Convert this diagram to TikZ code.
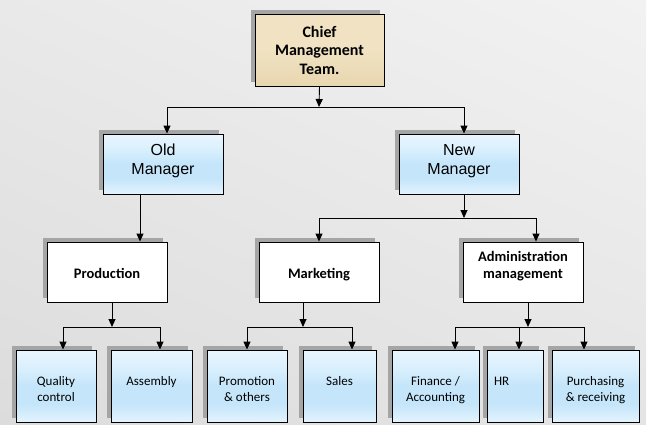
\documentclass[tikz,border=0pt]{standalone}
\usepackage{fontspec}
\setmainfont{Carlito}
\newfontfamily\arialf{Liberation Sans}
\usetikzlibrary{arrows.meta,shadows,shadings,calc}
\definecolor{bgA}{RGB}{220,220,220}
\definecolor{bgB}{RGB}{242,242,242}
\definecolor{parch}{RGB}{240,226,194}
\definecolor{parchB}{RGB}{232,214,176}
\definecolor{bluetop}{RGB}{234,246,254}
\definecolor{bluemidA}{RGB}{214,238,253}
\definecolor{bluemid}{RGB}{196,229,250}
\definecolor{bluebot}{RGB}{228,243,254}
\definecolor{shadowgray}{RGB}{165,165,165}
\pgfdeclareverticalshading{boxblue}{100bp}{color(0bp)=(bluebot); color(25bp)=(bluebot); color(38bp)=(bluemid); color(50bp)=(bluemid); color(60bp)=(bluemidA); color(75bp)=(bluetop); color(100bp)=(bluetop)}
\tikzset{
  boxshadow/.style={general shadow={fill=shadowgray, shadow xshift=-4pt, shadow yshift=4pt}},
  basebox/.style={draw=black, line width=0.9pt, rectangle, inner sep=0pt, align=center, boxshadow},
  chiefbox/.style={basebox, top color=parch, bottom color=parchB, middle color=parch,
    font=\fontsize{16}{18.5}\selectfont\bfseries},
  mgrbox/.style={basebox, shading=boxblue, text depth=10pt,
    font=\arialf\fontsize{16}{19}\selectfont},
  midbox/.style={basebox, fill=white, font=\fontsize{14.5}{17}\selectfont\bfseries},
  midone/.style={text height=14pt, text depth=0.6pt},
  leafbox/.style={basebox, shading=boxblue,
    font=\fontsize{13}{16}\selectfont},
  twoline/.style={text height=34.8pt, text depth=4pt},
  oneline/.style={text depth=10pt},
  arr/.style={line width=0.9pt, -{Triangle[length=8pt,width=7pt]}}
}
\begin{document}
\begin{tikzpicture}[x=1pt,y=-1pt]
\useasboundingbox (0,0) rectangle (653,431);
\shade[lower left=bgA, upper right=bgB, lower right=bgA!60!bgB, upper left=bgA!40!bgB] (0,0) rectangle (646,424);
% top
\node[chiefbox, minimum width=129pt, minimum height=72pt] (chief) at (319.5,50) {Chief\\Management\\Team.};
% managers
\node[mgrbox, minimum width=120pt, minimum height=60pt] (om) at (163,164) {Old\\Manager};
\node[mgrbox, minimum width=120pt, minimum height=60pt] (nm) at (459,164) {New\\Manager};
% middle
\node[midbox, midone, minimum width=120pt, minimum height=60pt] (prod) at (107,272) {Production};
\node[midbox, midone, minimum width=120pt, minimum height=60pt] (mkt) at (319,272) {Marketing};
\node[midbox, text depth=14pt, minimum width=120pt, minimum height=60pt] (adm) at (523,272) {Administration\\management};
% leaves
\node[leafbox, twoline, minimum width=80pt, minimum height=72pt] (qc) at (56,386) {Quality\\control};
\node[leafbox, oneline, minimum width=81pt, minimum height=72pt] (asm) at (151.5,386) {Assembly};
\node[leafbox, twoline, minimum width=80pt, minimum height=72pt] (promo) at (247,386) {Promotion\\\& others};
\node[leafbox, oneline, minimum width=73pt, minimum height=72pt] (sales) at (339.5,386) {Sales};
\node[leafbox, twoline, minimum width=87pt, minimum height=72pt] (fin) at (435.5,386) {Finance /\\Accounting};
\node[leafbox, oneline, minimum width=56pt, minimum height=72pt, text width=42pt, align=left] (hr) at (515,386) {HR};
\node[leafbox, twoline, minimum width=87pt, minimum height=72pt] (pur) at (595.5,386) {Purchasing\\\& receiving};
% junctions
\coordinate (j1) at (319,107);
\coordinate (j2) at (464,218);
\coordinate (j3) at (112,327);
\coordinate (j4) at (303,327);
\coordinate (j5) at (528,327);
% connectors
\draw[arr] (chief.south) -- (j1);
\draw[arr] (j1) -| ([xshift=4pt]om.north);
\draw[arr] (j1) -| ([xshift=5pt]nm.north);
\draw[arr] ([xshift=-23pt]om.south) -- ([xshift=-23pt]om.south |- prod.north);
\draw[arr] ([xshift=5pt]nm.south) -- (j2);
\draw[arr] (j2) -| (mkt.north);
\draw[arr] (j2) -| ([xshift=13pt]adm.north);
\draw[arr] ([xshift=5pt]prod.south) -- (j3);
\draw[arr] (j3) -| ([xshift=7pt]qc.north);
\draw[arr] (j3) -| ([xshift=8.5pt]asm.north);
\draw[arr] ([xshift=-16pt]mkt.south) -- (j4);
\draw[arr] (j4) -| (promo.north);
\draw[arr] (j4) -| ([xshift=12.5pt]sales.north);
\draw[arr] ([xshift=5pt]adm.south) -- (j5);
\draw[arr] (j5) -| ([xshift=19.5pt]fin.north);
\draw[arr] (j5) -| ([xshift=4pt]hr.north);
\draw[arr] (j5) -| ([xshift=-11.5pt]pur.north);
\end{tikzpicture}
\end{document}
